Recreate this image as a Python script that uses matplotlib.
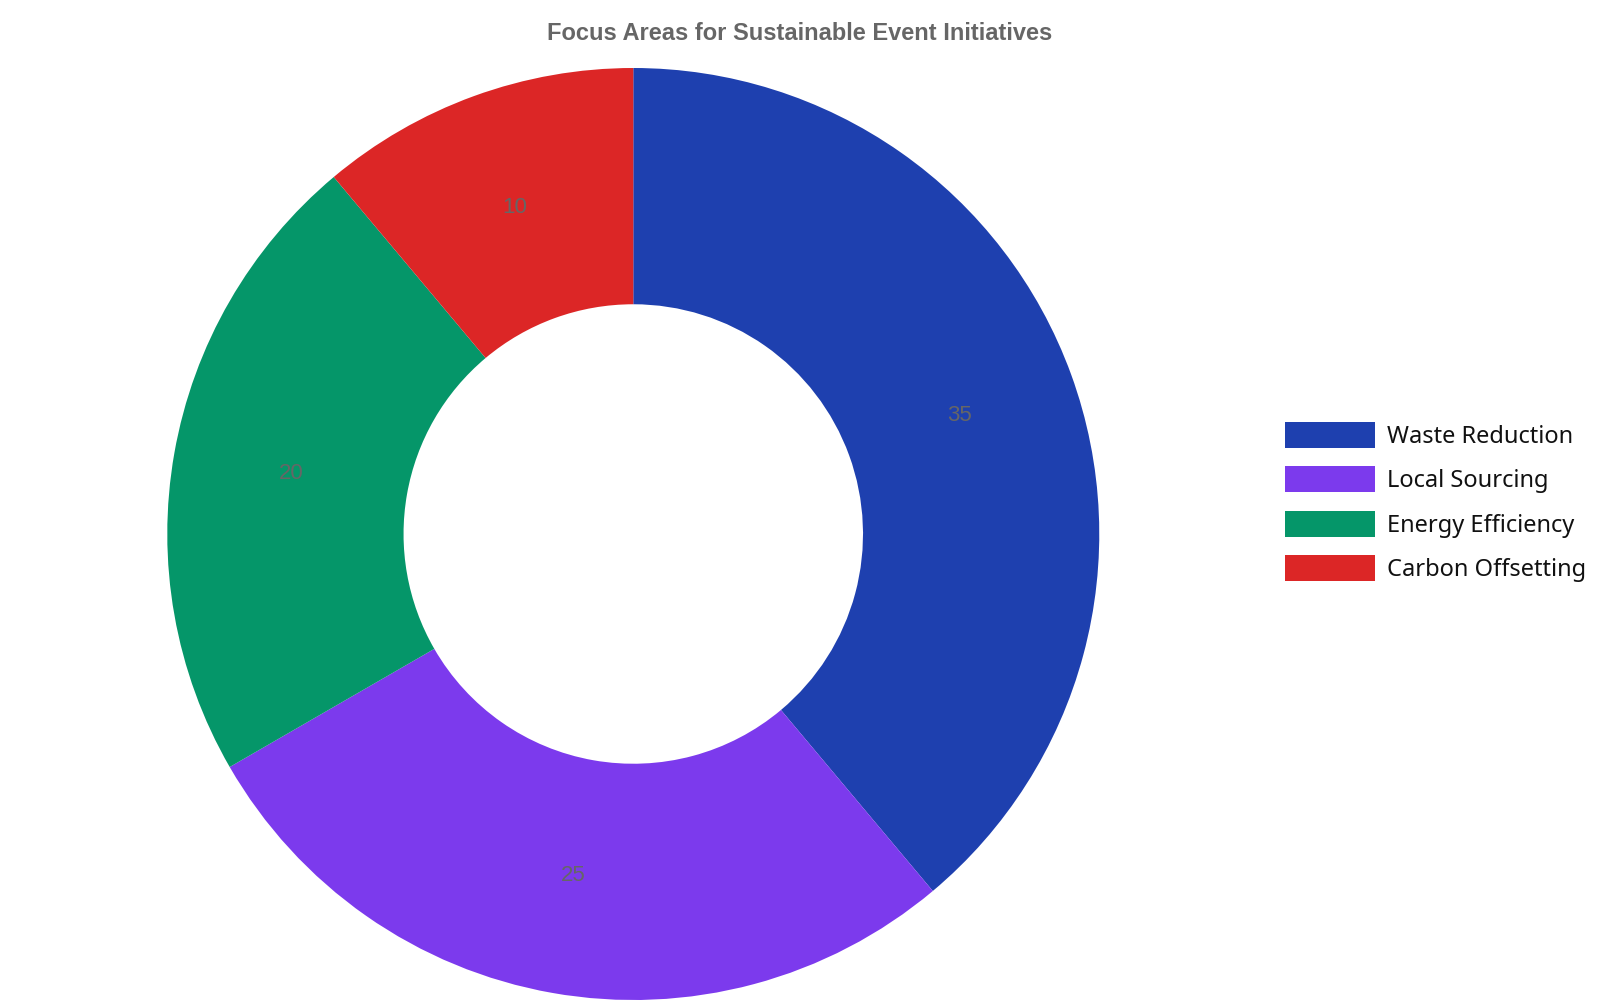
import matplotlib
matplotlib.use("Agg")
import matplotlib.pyplot as plt
from matplotlib.patches import Patch

categories = ["Waste Reduction", "Local Sourcing", "Energy Efficiency", "Carbon Offsetting"]
values = [35, 25, 20, 10]
colors = ["#1e40af", "#7c3aed", "#059669", "#dc2626"]

fig = plt.figure(figsize=(16, 10), dpi=100)
ax = fig.add_axes([0.1043, 0.0, 0.583, 0.932])
wedges, texts = ax.pie(values, colors=colors, startangle=90, counterclock=False,
                       radius=1.0, wedgeprops=dict(width=0.507, linewidth=0),
                       labels=[str(v) for v in values], labeldistance=0.745,
                       textprops=dict(color="#666666", fontsize=16, family="Liberation Sans"))
for t in texts:
    t.set_ha("center"); t.set_va("center")
ax.set_xlim(-1, 1); ax.set_ylim(-1, 1)
ax.set_aspect("equal")

fig.text(0.5, 0.966, "Focus Areas for Sustainable Event Initiatives", ha="center", va="center",
         fontsize=17, fontweight="bold", color="#666666", family="Liberation Sans")

handles = [Patch(facecolor=c, label=l) for c, l in zip(colors, categories)]
fig.legend(handles=handles, loc="center left", bbox_to_anchor=(0.79, 0.498), frameon=False,
           prop=dict(family="Noto Sans", size=17), handlelength=3.8, handleheight=1.3,
           labelspacing=0.75, handletextpad=0.5, labelcolor="#111111")
fig.savefig("out.png")
